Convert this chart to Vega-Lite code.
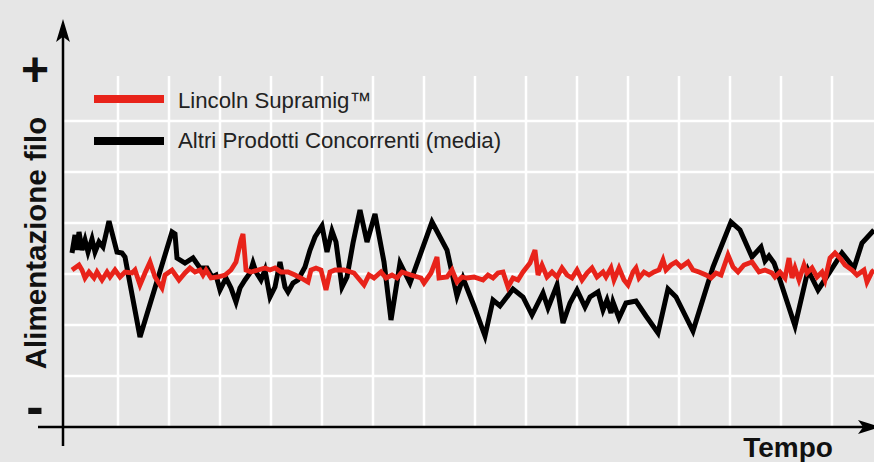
{
  "$schema": "https://vega.github.io/schema/vega-lite/v6.json",
  "width": 874,
  "height": 462,
  "padding": 0,
  "autosize": {"type": "none"},
  "background": "#e6e6e6",
  "config": {"view": {"stroke": null}},
  "datasets": {
    "hgrid": [{"g": 153}, {"g": 102}, {"g": 51}, {"g": 0}, {"g": -51}, {"g": -102}],
    "vgrid": [{"g": 55}, {"g": 106}, {"g": 157}, {"g": 208}, {"g": 259}, {"g": 310}, {"g": 361}, {"g": 412}, {"g": 463}, {"g": 514}, {"g": 565}, {"g": 616}, {"g": 667}, {"g": 718}, {"g": 769}],
    "black": [
      {"t":9,"v":21},{"t":12,"v":39},{"t":14,"v":24},{"t":16,"v":42},{"t":19,"v":24},{"t":22,"v":34},{"t":25,"v":22},{"t":29,"v":35},{"t":32,"v":22},{"t":36,"v":32},{"t":40,"v":27},{"t":46,"v":53},{"t":54,"v":22},{"t":59,"v":21},{"t":62,"v":17},{"t":77,"v":-63},{"t":109,"v":42},{"t":112,"v":40},{"t":114,"v":16},{"t":122,"v":11},{"t":130,"v":16},{"t":137,"v":6},{"t":144,"v":6},{"t":149,"v":-3},{"t":153,"v":-1},{"t":157,"v":-16},{"t":163,"v":-4},{"t":168,"v":-14},{"t":173,"v":-28},{"t":177,"v":-14},{"t":182,"v":-6},{"t":187,"v":1},{"t":190,"v":11},{"t":193,"v":2},{"t":198,"v":-6},{"t":202,"v":4},{"t":207,"v":-23},{"t":212,"v":-13},{"t":217,"v":12},{"t":222,"v":-13},{"t":225,"v":-18},{"t":230,"v":-9},{"t":235,"v":-6},{"t":242,"v":7},{"t":247,"v":24},{"t":252,"v":37},{"t":259,"v":48},{"t":264,"v":22},{"t":269,"v":43},{"t":273,"v":32},{"t":279,"v":-13},{"t":284,"v":-3},{"t":290,"v":31},{"t":297,"v":64},{"t":304,"v":32},{"t":312,"v":60},{"t":321,"v":12},{"t":328,"v":-46},{"t":337,"v":11},{"t":347,"v":-9},{"t":369,"v":52},{"t":384,"v":24},{"t":394,"v":-22},{"t":400,"v":-4},{"t":411,"v":-32},{"t":422,"v":-62},{"t":430,"v":-26},{"t":437,"v":-32},{"t":450,"v":-15},{"t":460,"v":-23},{"t":469,"v":-41},{"t":480,"v":-19},{"t":485,"v":-34},{"t":494,"v":-11},{"t":500,"v":-49},{"t":507,"v":-29},{"t":514,"v":-16},{"t":522,"v":-33},{"t":527,"v":-23},{"t":535,"v":-18},{"t":540,"v":-36},{"t":544,"v":-26},{"t":548,"v":-39},{"t":550,"v":-28},{"t":556,"v":-44},{"t":563,"v":-29},{"t":573,"v":-27},{"t":583,"v":-42},{"t":595,"v":-59},{"t":605,"v":-15},{"t":613,"v":-23},{"t":630,"v":-57},{"t":650,"v":7},{"t":668,"v":52},{"t":677,"v":44},{"t":689,"v":17},{"t":698,"v":27},{"t":702,"v":13},{"t":706,"v":18},{"t":711,"v":11},{"t":716,"v":-3},{"t":732,"v":-52},{"t":745,"v":4},{"t":755,"v":-16},{"t":759,"v":-10},{"t":779,"v":21},{"t":791,"v":6},{"t":799,"v":31},{"t":811,"v":44}
    ],
    "red": [
      {"t":9,"v":4},{"t":16,"v":9},{"t":19,"v":4},{"t":22,"v":-4},{"t":26,"v":2},{"t":31,"v":-4},{"t":34,"v":2},{"t":39,"v":-6},{"t":44,"v":2},{"t":47,"v":-3},{"t":52,"v":4},{"t":57,"v":-3},{"t":62,"v":2},{"t":69,"v":1},{"t":72,"v":4},{"t":77,"v":-11},{"t":82,"v":1},{"t":87,"v":12},{"t":92,"v":-3},{"t":99,"v":-14},{"t":102,"v":-1},{"t":109,"v":4},{"t":116,"v":-6},{"t":122,"v":1},{"t":127,"v":6},{"t":132,"v":2},{"t":137,"v":4},{"t":140,"v":-1},{"t":143,"v":4},{"t":148,"v":-4},{"t":155,"v":-3},{"t":162,"v":-1},{"t":168,"v":4},{"t":173,"v":12},{"t":178,"v":34},{"t":180,"v":40},{"t":183,"v":4},{"t":188,"v":2},{"t":195,"v":4},{"t":202,"v":6},{"t":207,"v":4},{"t":212,"v":6},{"t":218,"v":2},{"t":225,"v":2},{"t":232,"v":-1},{"t":238,"v":-4},{"t":245,"v":-8},{"t":248,"v":4},{"t":253,"v":6},{"t":258,"v":4},{"t":263,"v":-16},{"t":267,"v":2},{"t":272,"v":4},{"t":281,"v":4},{"t":291,"v":1},{"t":301,"v":-11},{"t":306,"v":-1},{"t":311,"v":-4},{"t":318,"v":2},{"t":323,"v":-4},{"t":329,"v":-1},{"t":334,"v":-4},{"t":339,"v":2},{"t":348,"v":-1},{"t":358,"v":-4},{"t":361,"v":-9},{"t":368,"v":1},{"t":374,"v":17},{"t":376,"v":-4},{"t":384,"v":-3},{"t":389,"v":4},{"t":394,"v":-8},{"t":399,"v":-3},{"t":404,"v":-4},{"t":411,"v":-3},{"t":414,"v":-4},{"t":420,"v":-6},{"t":425,"v":-1},{"t":430,"v":-4},{"t":435,"v":1},{"t":440,"v":2},{"t":445,"v":-13},{"t":450,"v":-4},{"t":455,"v":-6},{"t":460,"v":2},{"t":467,"v":11},{"t":472,"v":24},{"t":475,"v":-1},{"t":479,"v":9},{"t":484,"v":-3},{"t":489,"v":2},{"t":494,"v":-3},{"t":499,"v":6},{"t":504,"v":-1},{"t":509,"v":-4},{"t":514,"v":4},{"t":519,"v":-6},{"t":524,"v":1},{"t":529,"v":6},{"t":534,"v":-3},{"t":540,"v":2},{"t":543,"v":-3},{"t":548,"v":6},{"t":551,"v":-6},{"t":556,"v":6},{"t":561,"v":-6},{"t":565,"v":-11},{"t":570,"v":2},{"t":573,"v":6},{"t":576,"v":-4},{"t":581,"v":2},{"t":586,"v":-1},{"t":591,"v":2},{"t":596,"v":4},{"t":600,"v":14},{"t":603,"v":4},{"t":608,"v":9},{"t":613,"v":12},{"t":618,"v":7},{"t":625,"v":12},{"t":630,"v":4},{"t":636,"v":2},{"t":643,"v":-1},{"t":648,"v":-4},{"t":653,"v":1},{"t":658,"v":-1},{"t":665,"v":19},{"t":670,"v":7},{"t":675,"v":2},{"t":681,"v":9},{"t":689,"v":12},{"t":696,"v":2},{"t":702,"v":4},{"t":709,"v":1},{"t":712,"v":-3},{"t":717,"v":2},{"t":722,"v":-4},{"t":726,"v":16},{"t":729,"v":-4},{"t":732,"v":6},{"t":736,"v":-6},{"t":741,"v":9},{"t":744,"v":1},{"t":749,"v":6},{"t":754,"v":-3},{"t":759,"v":2},{"t":762,"v":-6},{"t":767,"v":16},{"t":772,"v":21},{"t":777,"v":16},{"t":782,"v":9},{"t":789,"v":4},{"t":794,"v":-1},{"t":801,"v":4},{"t":804,"v":-8},{"t":809,"v":2},{"t":811,"v":4}
    ]
  },
  "layer": [
    {
      "data": {"name": "hgrid"},
      "mark": {"type": "rule", "color": "#ffffff", "strokeWidth": 2.5},
      "encoding": {
        "y": {"field": "g", "type": "quantitative", "scale": {"domain": [-188, 274], "nice": false, "zero": false}, "axis": null},
        "x": {"datum": 0, "type": "quantitative", "scale": {"domain": [-63, 811], "nice": false, "zero": false}, "axis": null},
        "x2": {"datum": 811}
      }
    },
    {
      "data": {"name": "vgrid"},
      "mark": {"type": "rule", "color": "#ffffff", "strokeWidth": 2.5},
      "encoding": {
        "x": {"field": "g", "type": "quantitative", "scale": {"domain": [-63, 811], "nice": false, "zero": false}, "axis": null},
        "y": {"datum": -153, "type": "quantitative", "scale": {"domain": [-188, 274], "nice": false, "zero": false}, "axis": null},
        "y2": {"datum": 198}
      }
    },
    {
      "data": {"name": "black"},
      "mark": {"type": "line", "color": "#000000", "strokeWidth": 5, "strokeJoin": "miter"},
      "encoding": {
        "x": {"field": "t", "type": "quantitative", "scale": {"domain": [-63, 811], "nice": false, "zero": false}, "axis": null},
        "y": {"field": "v", "type": "quantitative", "scale": {"domain": [-188, 274], "nice": false, "zero": false}, "axis": null}
      }
    },
    {
      "data": {"name": "red"},
      "mark": {"type": "line", "color": "#e8231a", "strokeWidth": 4.8, "strokeJoin": "miter"},
      "encoding": {
        "x": {"field": "t", "type": "quantitative", "scale": {"domain": [-63, 811], "nice": false, "zero": false}, "axis": null},
        "y": {"field": "v", "type": "quantitative", "scale": {"domain": [-188, 274], "nice": false, "zero": false}, "axis": null}
      }
    },
    {
      "data": {"values": [{"axis": "y"}]},
      "mark": {"type": "rule", "color": "#000000", "strokeWidth": 2.5},
      "encoding": {
        "x": {"datum": 0, "type": "quantitative", "scale": {"domain": [-63, 811], "nice": false, "zero": false}, "axis": null},
        "y": {"datum": -172, "type": "quantitative", "scale": {"domain": [-188, 274], "nice": false, "zero": false}, "axis": null},
        "y2": {"datum": 238}
      }
    },
    {
      "data": {"values": [{"axis": "x"}]},
      "mark": {"type": "rule", "color": "#000000", "strokeWidth": 2.5},
      "encoding": {
        "y": {"datum": -153, "type": "quantitative", "scale": {"domain": [-188, 274], "nice": false, "zero": false}, "axis": null},
        "x": {"datum": -25, "type": "quantitative", "scale": {"domain": [-63, 811], "nice": false, "zero": false}, "axis": null},
        "x2": {"datum": 800}
      }
    },
    {
      "data": {"values": [{"axis": "y"}]},
      "mark": {"type": "point", "shape": "M0,-1L0.6,1L0,0.55L-0.6,1Z", "filled": true, "color": "#000000", "opacity": 1, "size": 529, "strokeWidth": 0},
      "encoding": {
        "x": {"datum": 0, "type": "quantitative", "scale": {"domain": [-63, 811], "nice": false, "zero": false}, "axis": null},
        "y": {"datum": 243.5, "type": "quantitative", "scale": {"domain": [-188, 274], "nice": false, "zero": false}, "axis": null}
      }
    },
    {
      "data": {"values": [{"axis": "x"}]},
      "mark": {"type": "point", "shape": "M1,0L-1,-0.6L-0.55,0L-1,0.6Z", "filled": true, "color": "#000000", "opacity": 1, "size": 529, "strokeWidth": 0},
      "encoding": {
        "x": {"datum": 806.5, "type": "quantitative", "scale": {"domain": [-63, 811], "nice": false, "zero": false}, "axis": null},
        "y": {"datum": -153, "type": "quantitative", "scale": {"domain": [-188, 274], "nice": false, "zero": false}, "axis": null}
      }
    },
    {
      "data": {"values": [{"series": "Lincoln Supramig™"}]},
      "mark": {"type": "rule", "color": "#e8231a", "strokeWidth": 8},
      "encoding": {
        "x": {"datum": 31, "type": "quantitative", "scale": {"domain": [-63, 811], "nice": false, "zero": false}, "axis": null},
        "x2": {"datum": 101},
        "y": {"datum": 175, "type": "quantitative", "scale": {"domain": [-188, 274], "nice": false, "zero": false}, "axis": null}
      }
    },
    {
      "data": {"values": [{"series": "Altri Prodotti Concorrenti (media)"}]},
      "mark": {"type": "rule", "color": "#000000", "strokeWidth": 8},
      "encoding": {
        "x": {"datum": 31, "type": "quantitative", "scale": {"domain": [-63, 811], "nice": false, "zero": false}, "axis": null},
        "x2": {"datum": 101},
        "y": {"datum": 133, "type": "quantitative", "scale": {"domain": [-188, 274], "nice": false, "zero": false}, "axis": null}
      }
    },
    {
      "data": {"values": [{"series": "Lincoln Supramig™"}]},
      "mark": {"type": "text", "font": "Liberation Sans", "fontSize": 22.2, "color": "#222222", "align": "left", "baseline": "alphabetic"},
      "encoding": {
        "text": {"field": "series"},
        "x": {"datum": 115, "type": "quantitative", "scale": {"domain": [-63, 811], "nice": false, "zero": false}, "axis": null},
        "y": {"datum": 166, "type": "quantitative", "scale": {"domain": [-188, 274], "nice": false, "zero": false}, "axis": null}
      }
    },
    {
      "data": {"values": [{"series": "Altri Prodotti Concorrenti (media)"}]},
      "mark": {"type": "text", "font": "Liberation Sans", "fontSize": 22.2, "color": "#222222", "align": "left", "baseline": "alphabetic"},
      "encoding": {
        "text": {"field": "series"},
        "x": {"datum": 115, "type": "quantitative", "scale": {"domain": [-63, 811], "nice": false, "zero": false}, "axis": null},
        "y": {"datum": 126, "type": "quantitative", "scale": {"domain": [-188, 274], "nice": false, "zero": false}, "axis": null}
      }
    },
    {
      "data": {"values": [{"label": "Alimentazione filo"}]},
      "mark": {"type": "text", "font": "Liberation Sans", "fontWeight": "bold", "fontSize": 29.5, "color": "#111111", "align": "center", "baseline": "alphabetic", "angle": 270},
      "encoding": {
        "text": {"field": "label"},
        "x": {"datum": -17, "type": "quantitative", "scale": {"domain": [-63, 811], "nice": false, "zero": false}, "axis": null},
        "y": {"datum": 31, "type": "quantitative", "scale": {"domain": [-188, 274], "nice": false, "zero": false}, "axis": null}
      }
    },
    {
      "data": {"values": [{"label": "+"}]},
      "mark": {"type": "text", "font": "Liberation Sans", "fontWeight": "bold", "fontSize": 48, "color": "#111111", "align": "center", "baseline": "alphabetic"},
      "encoding": {
        "text": {"field": "label"},
        "x": {"datum": -28, "type": "quantitative", "scale": {"domain": [-63, 811], "nice": false, "zero": false}, "axis": null},
        "y": {"datum": 188, "type": "quantitative", "scale": {"domain": [-188, 274], "nice": false, "zero": false}, "axis": null}
      }
    },
    {
      "data": {"values": [{"label": "-"}]},
      "mark": {"type": "text", "font": "Liberation Sans", "fontWeight": "bold", "fontSize": 52, "color": "#111111", "align": "center", "baseline": "alphabetic"},
      "encoding": {
        "text": {"field": "label"},
        "x": {"datum": -28, "type": "quantitative", "scale": {"domain": [-63, 811], "nice": false, "zero": false}, "axis": null},
        "y": {"datum": -150, "type": "quantitative", "scale": {"domain": [-188, 274], "nice": false, "zero": false}, "axis": null}
      }
    },
    {
      "data": {"values": [{"label": "Tempo"}]},
      "mark": {"type": "text", "font": "Liberation Sans", "fontWeight": "bold", "fontSize": 28, "color": "#111111", "align": "center", "baseline": "alphabetic"},
      "encoding": {
        "text": {"field": "label"},
        "x": {"datum": 725, "type": "quantitative", "scale": {"domain": [-63, 811], "nice": false, "zero": false}, "axis": null},
        "y": {"datum": -183, "type": "quantitative", "scale": {"domain": [-188, 274], "nice": false, "zero": false}, "axis": null}
      }
    }
  ]
}
